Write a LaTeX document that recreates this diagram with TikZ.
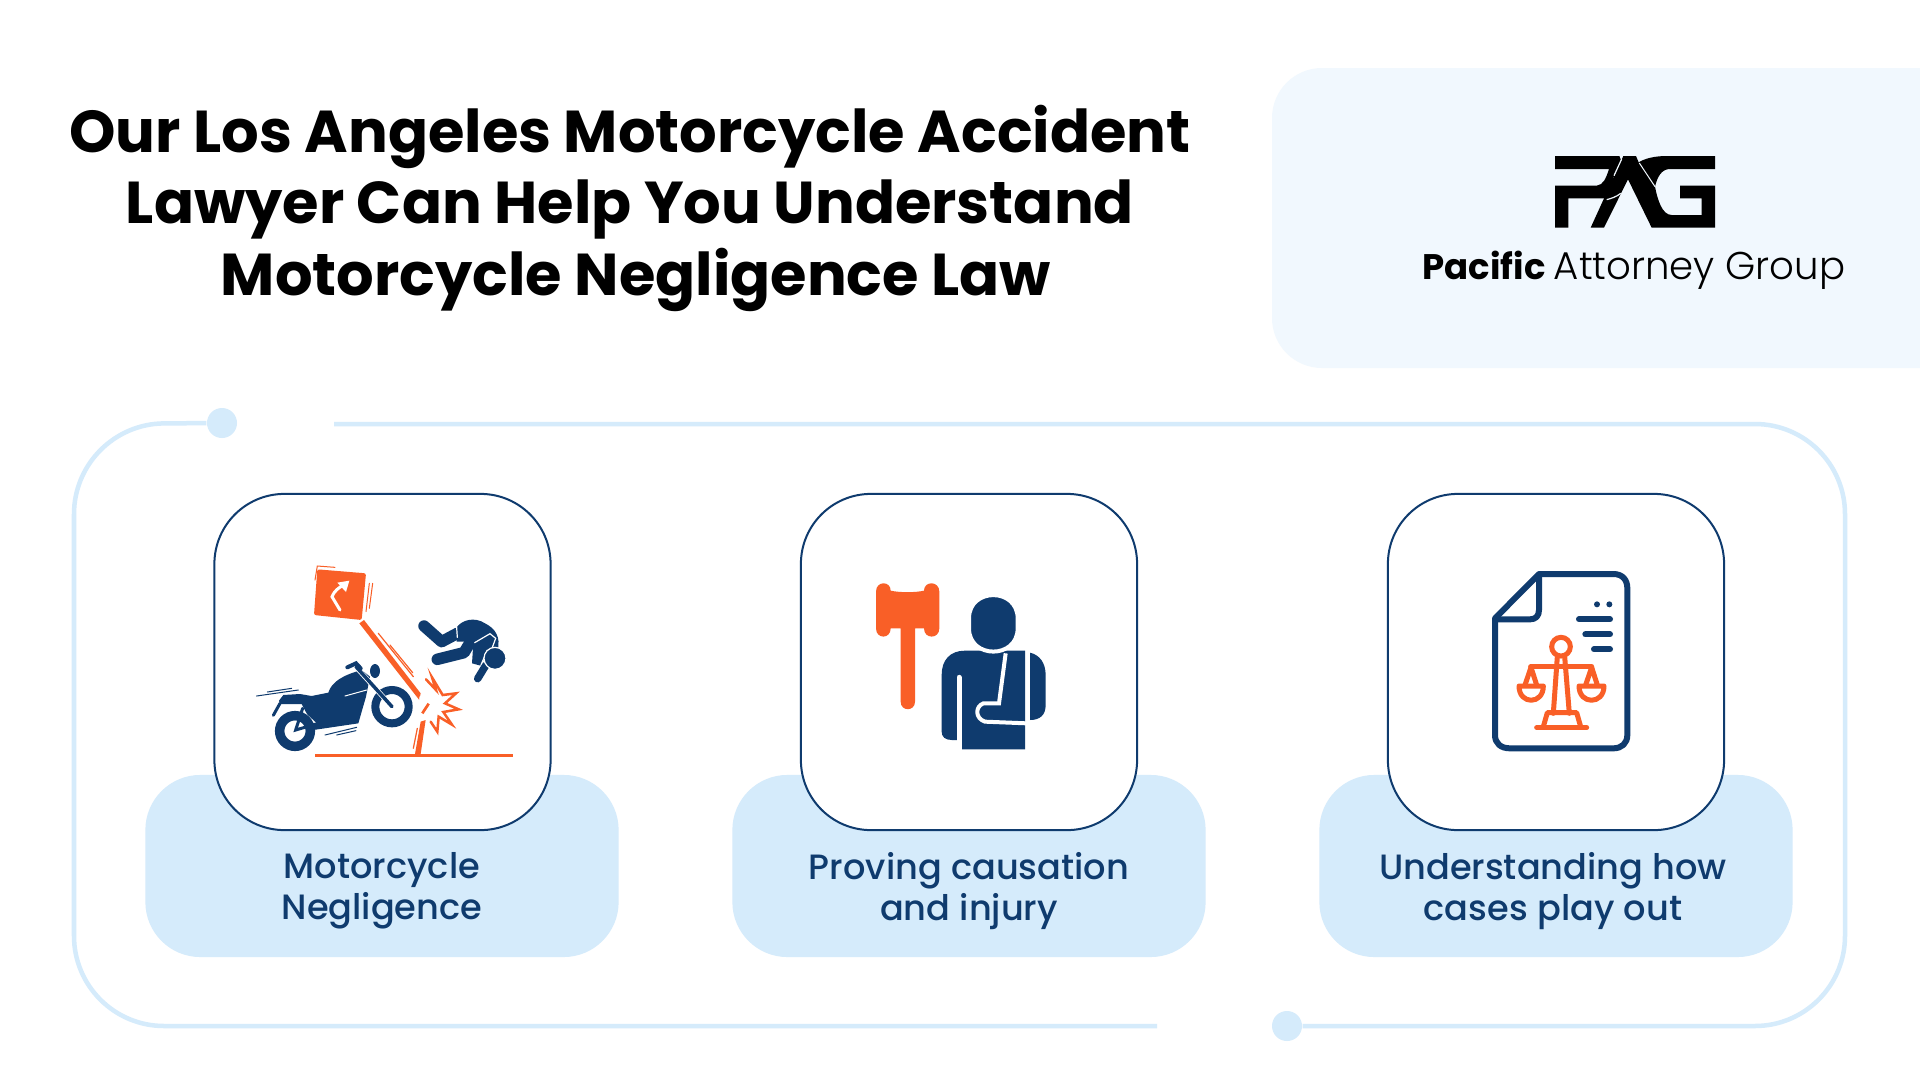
\documentclass[tikz,border=0pt]{standalone}
\usepackage{fontspec}
\setmainfont{Poppins}
\newfontfamily\popbold{Poppins Bold}
\newfontfamily\popmedium{Poppins Medium}
\newfontfamily\poplight{Poppins Light}
\definecolor{navy}{HTML}{0F3B6E}
\definecolor{flame}{HTML}{F95F27}
\definecolor{pale}{HTML}{D5EBFB}
\definecolor{panel}{HTML}{F1F8FE}
\tikzset{
  titleline/.style={font=\popbold\fontsize{16.8}{20}\selectfont, text=black, inner sep=0},
  cardbox/.style={draw=navy, fill=white, line width=0.02cm, rounded corners=0.7cm, minimum width=3.36cm, minimum height=3.36cm, inner sep=0},
  bandbox/.style={fill=pale, rounded corners=0.55cm, minimum width=4.73cm, minimum height=1.82cm, inner sep=0},
  bandtext/.style={font=\popmedium\fontsize{10}{11.7}\selectfont, text=navy, align=center, inner sep=0},
  frameline/.style={draw=pale, line width=0.045cm, rounded corners=0.9cm},
  framedot/.style={circle, fill=pale, minimum size=0.3cm, inner sep=0},
  navyfill/.style={fill=navy},
  flamefill/.style={fill=flame},
  navyline/.style={draw=navy, line cap=round},
  flameline/.style={draw=flame, line cap=round},
  whiteline/.style={draw=white, line cap=round},
}
\begin{document}
\begin{tikzpicture}[x=0.01cm, y=-0.01cm]
\useasboundingbox (0,0) rectangle (1920,1081);
\fill[white] (0,0) rectangle (1920,1081);

% title
\node[titleline] (titleA) at (630,137) {Our Los Angeles Motorcycle Accident};
\node[titleline] (titleB) at (630,209) {Lawyer Can Help You Understand};
\node[titleline] (titleC) at (636,280) {Motorcycle Negligence Law};

% logo panel
\fill[panel] (1920,68) [rounded corners=0.5cm] -- (1272,68) -- (1272,368) [sharp corners] -- (1920,368) -- cycle;
\begin{scope}[shift={(1540,145)}, scale=1/3]
\fill[black] (45,33) -- (238,33) -- (243,45) -- (222,92) -- (215,125) -- (237,147) -- (210,160) -- (85,160) -- (85,248) -- (45,248) -- (45,122) -- (170,122) .. controls (190,120) and (198,100) .. (207,72) -- (45,72) -- cycle;
\fill[black] (152,248) -- (192,248) -- (264,103) -- (335,248) -- (525,248) -- (525,122) -- (420,122) -- (420,160) -- (485,160) -- (485,210) -- (395,210) .. controls (365,210) and (352,160) .. (345,125) -- (296,52) -- (288,33) -- (250,33) -- cycle;
\fill[black] (525,33) -- (380,33) .. controls (345,33) and (315,40) .. (296,52) -- (345,125) .. controls (352,95) and (365,72) .. (390,72) -- (525,72) -- cycle;
\draw[panel, line width=0.012cm] (245,42) -- (222,92);
\draw[panel, line width=0.012cm] (200,164) .. controls (215,160) and (230,155) .. (242,145);
\draw[panel, line width=0.01cm] (298,54) -- (345,125);
\end{scope}
\node[anchor=base west, inner sep=0, font=\popbold\fontsize{10.1}{13}\selectfont] (logoA) at (1422,279) {Pacific};
\node[anchor=base east, inner sep=0, font=\poplight\fontsize{11}{13}\selectfont] (logoB) at (1846,279) {Attorney Group};

% outer frame
\node[framedot] (dotTop) at (222,423) {};
\node[framedot] (dotBottom) at (1287,1026) {};
\coordinate (frameA) at (334,424);
\coordinate (frameB) at (1157,1026);
\draw[frameline] (dotTop) -- (74,424) -- (74,1026) -- (frameB);
\draw[frameline] (frameA) -- (1845,424) -- (1845,1026) -- (dotBottom);

% bands and cards
\node[bandbox] (bandA) at (382,866) {};
\node[bandbox] (bandB) at (969,866) {};
\node[bandbox] (bandC) at (1556,866) {};
\node[cardbox] (cardA) at (382.5,662) {};
\node[cardbox] (cardB) at (969,662) {};
\node[cardbox] (cardC) at (1556,662) {};
\node[bandtext] (textA) at (382,891) {Motorcycle\\Negligence};
\node[bandtext] (textB) at (969,891) {Proving causation\\and injury};
\node[bandtext] (textC) at (1553,891) {Understanding how\\cases play out};

% motorcycle crash
\begin{scope}[shift={(230,540)}, scale=1/3]
\fill[flamefill, rounded corners=0.02cm] (262,88) -- (408,100) -- (395,240) -- (252,225) -- cycle;
\draw[whiteline, line width=0.03cm] (330,210) -- (306,170) .. controls (315,150) and (325,145) .. (340,135);
\fill[white] (358,122) -- (322,128) -- (348,156) -- cycle;
\draw[flameline, line width=0.01cm] (255,120) -- (262,78) -- (315,82);
\draw[flameline, line width=0.01cm] (428,130) -- (418,205);
\draw[flameline, line width=0.01cm] (418,130) -- (408,215);
\fill[flamefill] (388,250) -- (402,240) -- (572,460) -- (568,480) -- cycle;
\draw[flameline, line width=0.012cm] (445,280) -- (550,410);
\draw[flameline, line width=0.012cm] (480,315) -- (548,398);
\fill[flamefill] (572,545) -- (587,540) -- (572,642) -- (555,642) -- cycle;
\draw[flameline, line width=0.012cm] (562,565) -- (550,625);
\draw[flameline, line width=0.035cm, line cap=butt] (255,646) -- (848,646);
\draw[flameline, line width=0.025cm, line join=miter, fill=white] (588,418) -- (618,450) -- (606,412) -- (638,465) -- (678,460) -- (645,490) -- (686,508) -- (640,516) -- (666,554) -- (626,530) -- (622,575) -- (602,545);
\fill[white] (568,470) -- (606,455) -- (640,500) -- (600,540) -- (570,540) -- cycle;
\draw[flameline, line width=0.027cm, line cap=butt] (577,520) -- (596,491);
% bike
\fill[navyfill] (147,482) -- (160,465) -- (210,462) -- (245,468) -- (295,458) .. controls (305,425) and (340,405) .. (395,390) -- (420,410) -- (408,470) -- (385,550) -- (250,570) -- (235,530) -- (215,492) -- (150,492) -- cycle;
\draw[navyline, line width=0.03cm] (150,490) -- (130,526);
\fill[white] (222,515) -- (258,548) -- (205,558) -- cycle;
\draw[navyline, line width=0.03cm] (218,505) -- (197,570) -- (265,550);
\draw[navy, line width=0.095cm] (195,573) circle (46);
\draw[navy, line width=0.08cm] (486,500) circle (50);
\draw[whiteline, line width=0.05cm] (382,385) -- (486,500);
\draw[navyline, line width=0.035cm] (378,380) -- (486,500);
\draw[navyline, line width=0.04cm] (352,382) -- (378,370) -- (392,385);
\fill[navyfill] (435,393) ellipse (15 and 21);
\draw[whiteline, line width=0.01cm] (345,468) -- (410,450);
\draw[navyline, line width=0.01cm] (80,468) -- (205,450);
\draw[navyline, line width=0.01cm] (112,456) -- (185,445);
\draw[navyline, line width=0.01cm] (285,585) -- (380,562);
\draw[navyline, line width=0.01cm] (320,585) -- (378,572);
\end{scope}
% rider
\begin{scope}[shift={(400,600)}, scale=1/3]
\draw[navyline, line width=0.115cm, line join=round] (72,78) -- (125,125) -- (172,100);
\draw[navyline, line width=0.115cm, line join=round] (112,178) -- (192,158) -- (218,115);
\fill[navyfill] (168,85) .. controls (185,58) and (225,50) .. (255,70) .. controls (285,85) and (303,110) .. (293,152) -- (265,150) -- (242,197) -- (216,190) -- (220,130) -- (205,125) -- (170,125) -- cycle;
\draw[whiteline, line width=0.012cm] (224,128) -- (270,101) -- (287,115) -- (276,145);
\draw[whiteline, line width=0.012cm] (170,82) -- (172,112);
\draw[white, line width=0.012cm] (262,150) -- (242,197);
\draw[navyline, line width=0.075cm] (258,195) -- (233,236);
\draw[white, line width=0.012cm, fill=navy] (285,175) circle (33);
\end{scope}

% gavel and injured man
\begin{scope}[shift={(850,560)}, scale=1/3]
\fill[flamefill] (78,95) .. controls (78,62) and (122,62) .. (122,92) .. controls (150,98) and (195,98) .. (222,92) .. controls (222,62) and (268,62) .. (268,95) -- (268,205) .. controls (268,238) and (222,238) .. (222,205) -- (195,205) -- (195,425) .. controls (195,455) and (152,455) .. (152,425) -- (152,205) -- (122,205) .. controls (122,238) and (78,238) .. (78,205) -- cycle;
\fill[navyfill] (275,515) -- (275,345) .. controls (275,300) and (300,272) .. (345,272) -- (525,272) -- (525,568) -- (335,568) -- (335,540) -- (305,540) .. controls (285,540) and (275,530) .. (275,515) -- cycle;
\fill[navyfill] (540,278) .. controls (570,285) and (587,310) .. (587,345) -- (587,435) .. controls (587,465) and (570,480) .. (540,480) -- cycle;
\draw[white, line width=0.05cm, line cap=round] (327,352) -- (327,560);
\fill[white] (320,540) rectangle (335,572);
\draw[white, line width=0.04cm] (467,280) -- (447,430) -- (400,430) .. controls (375,440) and (375,475) .. (405,485) -- (530,490);
\draw[white, line width=0.04cm, fill=navy] (357,175) .. controls (357,82) and (503,82) .. (503,175) -- (503,205) .. controls (503,298) and (357,298) .. (357,205) -- cycle;
\end{scope}

% document with scales
\begin{scope}[shift={(1470,550)}, scale=1/3]
\draw[navy, line width=0.06cm, line join=round] (207,72) -- (430,72) .. controls (458,72) and (472,90) .. (472,115) -- (472,555) .. controls (472,580) and (455,595) .. (430,595) -- (120,595) .. controls (92,595) and (75,580) .. (75,555) -- (75,205) -- cycle;
\draw[navy, line width=0.06cm, line join=round] (207,72) -- (207,180) .. controls (207,198) and (197,208) .. (180,208) -- (75,208);
\fill[navyfill] (381,163) circle (9);
\fill[navyfill] (418,163) circle (9);
\draw[navyline, line width=0.06cm] (327,208) -- (420,208);
\draw[navyline, line width=0.06cm] (346,253) -- (420,253);
\draw[navyline, line width=0.06cm] (372,298) -- (420,298);
\draw[flame, line width=0.05cm] (273,290) circle (28);
\draw[flameline, line width=0.05cm, line join=round] (262,320) -- (250,490);
\draw[flameline, line width=0.05cm, line join=round] (284,320) -- (298,490);
\draw[flameline, line width=0.05cm] (182,350) -- (365,350);
\draw[flameline, line width=0.05cm, line join=round] (200,405) -- (183,352) -- (165,405);
\draw[flameline, line width=0.05cm, line join=round] (382,405) -- (365,352) -- (347,405);
\draw[flameline, line width=0.05cm, line join=round] (147,408) -- (220,408) .. controls (220,465) and (147,465) .. (147,408) -- cycle;
\draw[flameline, line width=0.05cm, line join=round] (327,408) -- (402,408) .. controls (402,465) and (327,465) .. (327,408) -- cycle;
\draw[flameline, line width=0.05cm, line join=round] (220,530) -- (232,488) -- (320,488) -- (332,530);
\draw[flameline, line width=0.05cm] (200,533) -- (350,533);
\end{scope}
\end{tikzpicture}
\end{document}
